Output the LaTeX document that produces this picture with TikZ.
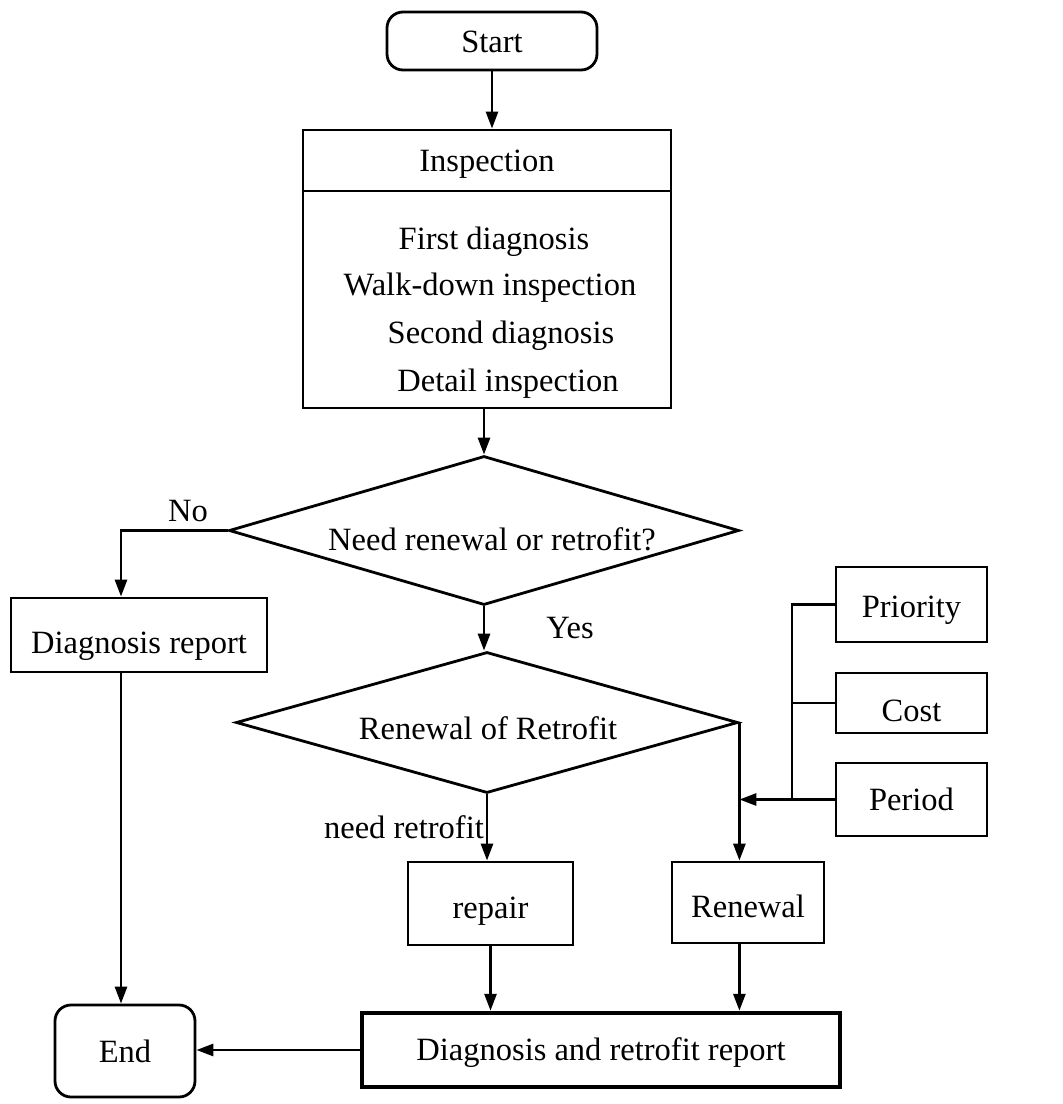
\documentclass[tikz,border=0pt]{standalone}
\usepackage{fontspec}
\setmainfont{Liberation Serif}
\usetikzlibrary{shapes.geometric,arrows.meta}
\begin{document}
\begin{tikzpicture}[x=1pt,y=-1pt,
  every node/.style={font=\fontsize{32.5}{38}\selectfont},
  box/.style={draw,rectangle,line width=2.8pt,inner sep=0pt,text depth=0pt},
  term/.style={box,rounded corners=16pt},
  decision/.style={draw,diamond,line width=2.8pt,inner sep=0pt},
  txt/.style={inner sep=0pt,anchor=base},
  conn/.style={line width=2.8pt},
  arr/.style={conn,-{Triangle[length=17pt,width=12pt]}}]
\useasboundingbox (0,0) rectangle (1063,1104);
% nodes
\node[term,minimum width=210pt,minimum height=58pt,text height=23pt] (start) at (492,41) {Start};
\node[box,minimum width=368pt,minimum height=61pt,text height=21pt] (insptop) at (487,160.5) {Inspection};
\node[box,minimum width=368pt,minimum height=217pt] (inspbody) at (487,299.5) {};
\node[txt] (l1) at (494,249) {First diagnosis};
\node[txt] (l2) at (490,295) {Walk-down inspection};
\node[txt] (l3) at (501,343) {Second diagnosis};
\node[txt] (l4) at (508,391) {Detail inspection};
\node[decision,minimum width=510pt,minimum height=149pt] (d1) at (484,530.5) {};
\node[txt] (d1t) at (492,550.5) {Need renewal or retrofit?};
\node[decision,minimum width=502pt,minimum height=141pt] (d2) at (487,722.5) {};
\node[txt] (d2t) at (488,739.5) {Renewal of Retrofit};
\node[box,minimum width=256pt,minimum height=74pt,text height=36pt] (diag) at (139,635) {Diagnosis report};
\node[box,minimum width=165pt,minimum height=83pt,text height=29pt] (repair) at (490.5,903.5) {repair};
\node[box,minimum width=152pt,minimum height=81pt,text height=29pt] (renewal) at (748,902.5) {Renewal};
\node[box,minimum width=151pt,minimum height=75pt,text height=25pt] (priority) at (911.5,604.5) {Priority};
\node[box,minimum width=151pt,minimum height=60pt,text height=36pt] (cost) at (911.5,703) {Cost};
\node[box,minimum width=151pt,minimum height=73pt,text height=22pt] (period) at (911.5,799.5) {Period};
\node[term,minimum width=140pt,minimum height=92pt,text height=23pt] (end) at (125,1051) {End};
\node[box,line width=4.5pt,minimum width=478pt,minimum height=74pt,text height=20pt] (report) at (601,1050) {Diagnosis and retrofit report};
% helper coordinates
\coordinate (nox) at (121,0);
\coordinate (bus) at (792,0);
% connectors
\draw[arr] (start.south) -- (start.south |- insptop.north);
\draw[arr] (d1.north |- inspbody.south) -- (d1.north);
\draw[arr] (d1.west) -| (nox |- diag.north);
\node[txt] (no) at (188,521) {No};
\draw[arr] (d1.south) -- (d1.south |- d2.north);
\node[txt] (yes) at (570,638) {Yes};
\draw[arr] (d2.south) -- (d2.south |- repair.north);
\node[txt,anchor=base east] (nr) at (484,838.5) {need retrofit};
\draw[arr] (d2.east) -- (d2.east |- renewal.north);
\draw[arr] (period.west) -- (d2.east |- period.west);
\draw[conn] (priority.west) -- (priority.west -| bus) -- (period.west -| bus);
\draw[conn] (cost.west) -- (cost.west -| bus);
\draw[arr] (repair.south) -- (repair.south |- report.north);
\draw[arr] (d2.east |- renewal.south) -- (d2.east |- report.north);
\draw[arr] (nox |- diag.south) -- (nox |- end.north);
\draw[arr] (report.west) -- (report.west -| end.east);
\end{tikzpicture}
\end{document}
